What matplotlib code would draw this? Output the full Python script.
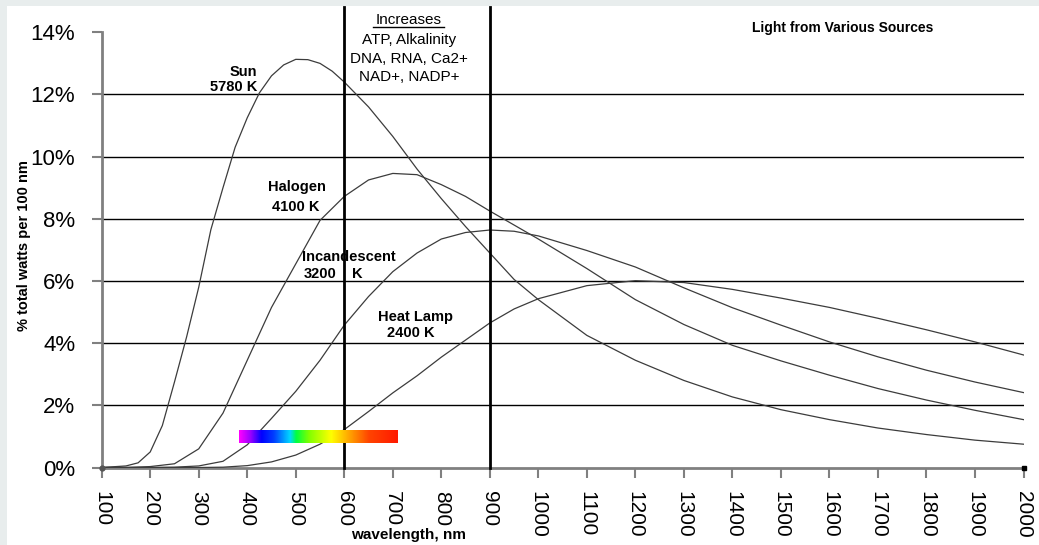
import matplotlib
matplotlib.use("Agg")
import matplotlib.pyplot as plt
import numpy as np
from matplotlib.colors import LinearSegmentedColormap
from matplotlib.lines import Line2D
from matplotlib.patches import Rectangle

# values (% of total watts per 100 nm)
wavelength = [100, 150, 200, 250, 300, 350, 400, 450, 500, 550, 600, 650, 700, 750,
              800, 850, 900, 950, 1000, 1100, 1200, 1300, 1400, 1500, 1600, 1700,
              1800, 1900, 2000]
# the sun curve is steep, so it was read more densely
sun_nm = [100, 150, 175, 200, 225, 250, 275, 300, 325, 350, 375, 400, 425, 450, 475,
          500, 525, 550, 575, 600, 625, 650, 700, 750, 800, 850, 900, 950, 1000,
          1100, 1200, 1300, 1400, 1500, 1600, 1700, 1800, 1900, 2000]
sun = [0, 0.05, 0.15, 0.5, 1.35, 2.75, 4.2, 5.8, 7.65, 9.0, 10.3, 11.25, 12.05, 12.6,
       12.95, 13.13, 13.12, 13.0, 12.75, 12.4, 12.0, 11.6, 10.65, 9.6, 8.65, 7.75,
       6.9, 6.05, 5.4, 4.25, 3.45, 2.8, 2.27, 1.86, 1.54, 1.27, 1.06, 0.88, 0.75]
halogen = [0, 0, 0.03, 0.12, 0.6, 1.75, 3.45, 5.15, 6.55, 7.95, 8.72, 9.25, 9.46, 9.42,
           9.1, 8.72, 8.25, 7.8, 7.35, 6.4, 5.4, 4.6, 3.93, 3.43, 2.97, 2.54, 2.17, 1.84, 1.54]
incandescent = [0, 0, 0, 0.01, 0.05, 0.2, 0.73, 1.58, 2.45, 3.45, 4.58, 5.5, 6.3, 6.9,
                7.35, 7.56, 7.64, 7.6, 7.45, 6.98, 6.45, 5.78, 5.14, 4.58, 4.04, 3.56,
                3.13, 2.75, 2.41]
heat_lamp = [0, 0, 0, 0, 0, 0.01, 0.06, 0.18, 0.4, 0.75, 1.22, 1.8, 2.4, 2.95,
             3.55, 4.1, 4.65, 5.1, 5.43, 5.85, 6.01, 5.95, 5.73, 5.45, 5.15, 4.8,
             4.43, 4.04, 3.62]

x_ticks = list(range(100, 2001, 100))
y_ticks = [0, 2, 4, 6, 8, 10, 12, 14]
grid_levels = [2, 4, 6, 8, 10, 12]
divider_nm = [600, 900]
increases_items = ["ATP, Alkalinity", "DNA, RNA, Ca2+", "NAD+, NADP+"]
visible_band = (382, 709)

plt.rcParams['font.family'] = ['Liberation Sans', 'DejaVu Sans']

W, H = 1039, 545
fig = plt.figure(figsize=(W / 100, H / 100), dpi=100, facecolor='#e8eded')
fig.patches.append(Rectangle((7 / W, 0), 1, 1 - 6 / H, transform=fig.transFigure,
                             facecolor='white', edgecolor='none', zorder=-10))

ax = fig.add_axes([101.7 / W, 1 - 467.5 / H, 921.8 / W, 435.2 / H])
ax.set_facecolor('none')

for lvl in grid_levels:
    ax.axhline(lvl, color='black', lw=1.0, zorder=2)

ax.plot(sun_nm, sun, color='#3c3c3c', lw=0.9, zorder=3)
for series in (halogen, incandescent, heat_lamp):
    ax.plot(wavelength, series, color='#3c3c3c', lw=0.9, zorder=3)

for nm in divider_nm:
    ax.plot([nm, nm], [0, 14.8], color='black', lw=2.0, clip_on=False, zorder=4)

# visible spectrum strip
spec_cmap = LinearSegmentedColormap.from_list('spec', [
    (0.00, '#ff00ff'), (0.07, '#9a00ff'), (0.14, '#0000ff'), (0.22, '#0040ff'),
    (0.32, '#00d8ff'), (0.36, '#00ff40'), (0.44, '#80ff00'), (0.58, '#ffff00'),
    (0.71, '#ff9900'), (0.82, '#ff4400'), (1.00, '#ff1a00')])
ax.imshow(np.linspace(0, 1, 400).reshape(1, -1), cmap=spec_cmap, aspect='auto',
          extent=[visible_band[0], visible_band[1], 0.8, 1.21], zorder=5)

ax.plot([100], [0], marker='o', ms=3.5, color='#555555', clip_on=False, zorder=6)
ax.plot([2000], [0], marker='s', ms=3.5, color='black', clip_on=False, zorder=6)

ax.set_xlim(100, 2000)
ax.set_ylim(0, 14)

ax.set_xticks(x_ticks)
ax.set_xticklabels([str(v) for v in x_ticks], rotation=-90, fontsize=15)
ax.set_yticks(y_ticks)
ax.set_yticklabels([f"{v}%" for v in y_ticks], fontsize=16)
ax.tick_params(axis='x', length=7, width=1.5, color='#808080', pad=10)
ax.tick_params(axis='y', length=7, width=1.5, color='#808080', pad=12)

for side in ('top', 'right'):
    ax.spines[side].set_visible(False)
for side in ('left', 'bottom'):
    ax.spines[side].set_color('#808080')
    ax.spines[side].set_linewidth(2)

lab = dict(fontsize=10.5, fontweight='bold', va='center', clip_on=False, zorder=7)
ax.text(421, 12.71, "Sun", ha='right', **lab)
ax.text(421, 12.24, "5780 K", ha='right', **lab)
ax.text(503, 9.02, "Halogen", ha='center', **lab)
ax.text(500, 8.38, "4100 K", ha='center', **lab)
ax.text(610, 6.77, "Incandescent", ha='center', **lab)
ax.text(550, 6.22, "3200", ha='center', **lab)
ax.text(626, 6.22, "K", ha='center', **lab)
ax.text(746, 4.84, "Heat Lamp", ha='center', **lab)
ax.text(738, 4.33, "2400 K", ha='center', **lab)

ax.text(1628, 14.14, "Light from Various Sources", ha='center', va='center',
        fontsize=10, fontweight='bold', clip_on=False)

ax.text(732, 14.40, "Increases", ha='center', va='center', fontsize=11, clip_on=False)
for i, item in enumerate(increases_items):
    ax.text(734, 13.75 - i * 0.6, item, ha='center', va='center', fontsize=11,
            clip_on=False)
fig.add_artist(Line2D([373 / W, 444 / W], [1 - 27 / H, 1 - 27 / H], color='black', lw=1))

fig.text(409 / W, 1 - 535 / H, "wavelength, nm", ha='center', va='center',
         fontsize=11, fontweight='bold')
fig.text(24 / W, 1 - 246 / H, "% total watts per 100 nm", rotation=90, ha='center',
         va='center', fontsize=10.5, fontweight='bold')

fig.savefig('out.png', dpi=100, facecolor=fig.get_facecolor())
